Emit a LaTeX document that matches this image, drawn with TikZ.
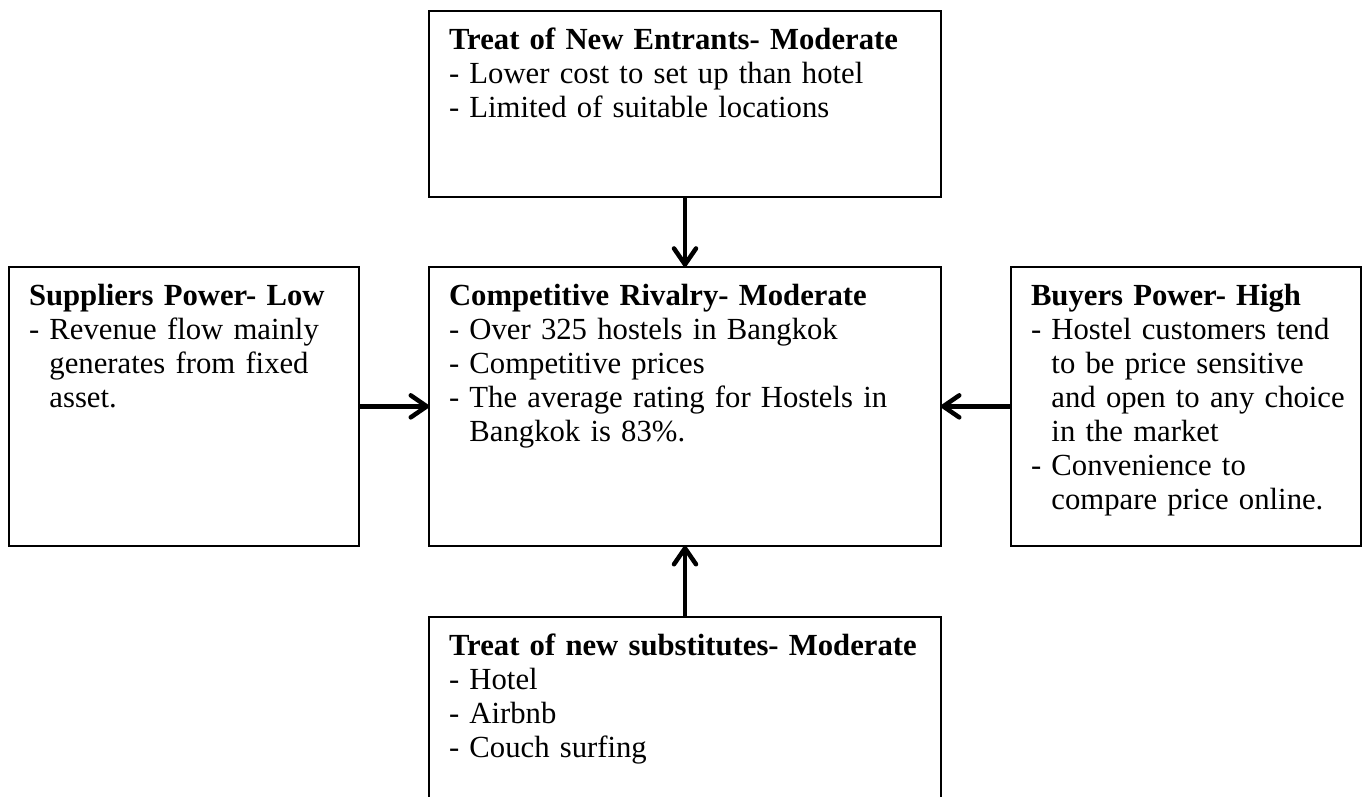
\documentclass[tikz,border=0pt]{standalone}
\usepackage{fontspec}
\setmainfont{Liberation Serif}
\usetikzlibrary{arrows.meta}

\begin{document}
\begin{tikzpicture}[x=1pt, y=-1pt,
        force/.style={rectangle, draw, line width=1.8pt, outer sep=0pt, anchor=north west, align=left, inner xsep=20pt, inner ysep=0pt, text height=38.6pt, font=\fontsize{30.7}{34}\selectfont},
        wide/.style={force, text width=472pt},
        narrow/.style={force, text width=310pt},
        arrow/.style={-{Straight Barb[length=16pt, width=22pt, round]}, line width=4.5pt}]

      \useasboundingbox (0,0) rectangle (1362,796);

      \node[wide, text depth=147.4pt] (entrants) at (429,10.7) {\textbf{Treat of New Entrants- Moderate}\\- Lower cost to set up than hotel\\- Limited of suitable locations};
      \node[wide, text depth=240.7pt] (rivalry) at (429,266.7) {\textbf{Competitive Rivalry- Moderate}\\- Over 325 hostels in Bangkok\\- Competitive prices\\- The average rating for Hostels in\\\phantom{- }Bangkok is 83\%.};
      \node[narrow, text depth=240.7pt] (suppliers) at (9,266.7) {\textbf{Suppliers Power- Low}\\- Revenue flow mainly\\\phantom{- }generates from fixed\\\phantom{- }asset.};
      \node[narrow, text depth=240.7pt] (buyers) at (1011,266.7) {\textbf{Buyers Power- High}\\- Hostel customers tend\\\phantom{- }to be price sensitive\\\mbox{\phantom{- }and open to any choice}\\\phantom{- }in the market\\- Convenience to\\\phantom{- }compare price online.};
      \node[wide, text depth=200pt] (substitutes) at (429,616.7) {\textbf{Treat of new substitutes- Moderate}\\- Hotel\\- Airbnb\\- Couch surfing};

      \draw[arrow] (entrants) -- (rivalry);
      \draw[arrow] (suppliers) -- (rivalry);
      \draw[arrow] (buyers) -- (rivalry);
      \draw[arrow] (substitutes) -- (rivalry);
    \end{tikzpicture}
\end{document}
